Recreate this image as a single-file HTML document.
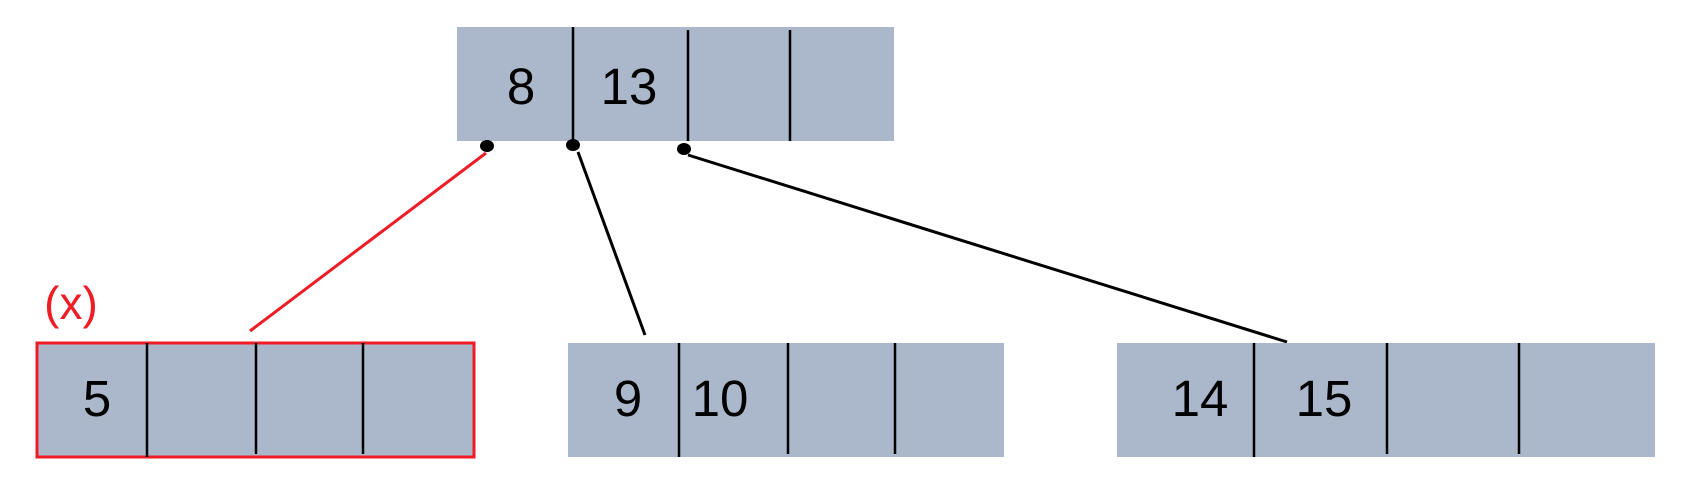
<!DOCTYPE html>
<html><head><meta charset="utf-8"><style>
html,body{margin:0;padding:0;background:#fff;}
svg{display:block;}
text{font-family:"Liberation Sans",sans-serif;}
</style></head><body>
<svg width="1690" height="488" viewBox="0 0 1690 488">
<g>
<rect x="457" y="27" width="437" height="114" fill="#abb7ca"/>
<line x1="573" y1="27" x2="573" y2="141" stroke="#000" stroke-width="2.5"/>
<line x1="688" y1="30" x2="688" y2="141" stroke="#000" stroke-width="2.5"/>
<line x1="790" y1="30" x2="790" y2="141" stroke="#000" stroke-width="2.5"/>
<text x="521" y="104" font-size="51" text-anchor="middle">8</text>
<text x="629" y="104" font-size="51" text-anchor="middle">13</text>
</g>
<line x1="486" y1="153" x2="250" y2="331" stroke="#ee1c24" stroke-width="3"/>
<line x1="578" y1="152" x2="645" y2="335" stroke="#000" stroke-width="3"/>
<line x1="688" y1="155" x2="1287" y2="342" stroke="#000" stroke-width="3"/>
<ellipse cx="487" cy="146" rx="7" ry="6" fill="#000"/>
<ellipse cx="573" cy="145" rx="7" ry="6" fill="#000"/>
<ellipse cx="684" cy="149" rx="7" ry="6" fill="#000"/>
<text x="71" y="319" font-size="46" fill="#ee1c24" text-anchor="middle">(x)</text>
<g>
<rect x="37" y="343" width="437" height="114" fill="#abb7ca" stroke="#ee1c24" stroke-width="3"/>
<line x1="147" y1="343" x2="147" y2="457" stroke="#000" stroke-width="2.5"/>
<line x1="256" y1="343" x2="256" y2="454" stroke="#000" stroke-width="2.5"/>
<line x1="363" y1="343" x2="363" y2="454" stroke="#000" stroke-width="2.5"/>
<text x="97" y="416" font-size="51" text-anchor="middle">5</text>
</g>
<g>
<rect x="568" y="343" width="436" height="114" fill="#abb7ca"/>
<line x1="679" y1="343" x2="679" y2="457" stroke="#000" stroke-width="2.5"/>
<line x1="788" y1="343" x2="788" y2="454" stroke="#000" stroke-width="2.5"/>
<line x1="895" y1="343" x2="895" y2="454" stroke="#000" stroke-width="2.5"/>
<text x="628" y="416" font-size="51" text-anchor="middle">9</text>
<text x="720" y="416" font-size="51" text-anchor="middle">10</text>
</g>
<g>
<rect x="1117" y="343" width="538" height="114" fill="#abb7ca"/>
<line x1="1254" y1="343" x2="1254" y2="457" stroke="#000" stroke-width="2.5"/>
<line x1="1387" y1="343" x2="1387" y2="454" stroke="#000" stroke-width="2.5"/>
<line x1="1519" y1="343" x2="1519" y2="454" stroke="#000" stroke-width="2.5"/>
<text x="1200" y="416" font-size="51" text-anchor="middle">14</text>
<text x="1324" y="416" font-size="51" text-anchor="middle">15</text>
</g>
</svg>
</body></html>
